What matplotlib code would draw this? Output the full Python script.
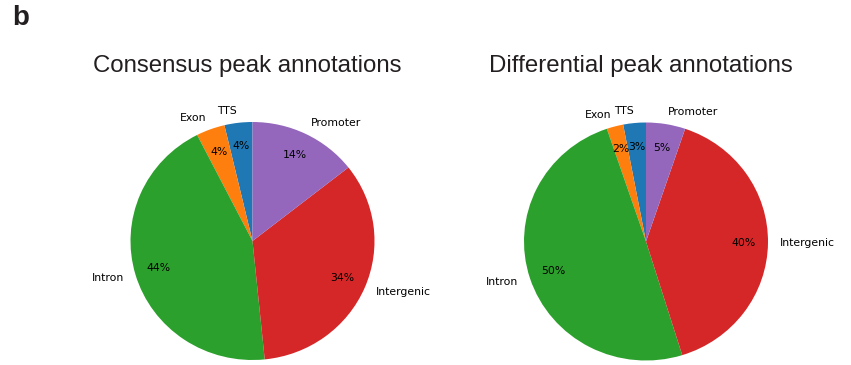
import matplotlib.pyplot as plt

# peak annotation shares (%), counterclockwise from 12 o'clock
labels = ['TTS', 'Exon', 'Intron', 'Intergenic', 'Promoter']
consensus = [3.7, 3.8, 44.1, 34.0, 14.4]
differential = [3.0, 2.2, 49.6, 40.0, 5.2]
colors = ['tab:blue', 'tab:orange', 'tab:green', 'tab:red', 'tab:purple']

W, H = 851, 365
fig = plt.figure(figsize=(W / 100, H / 100), dpi=100)


def pie_axes(cx, cy, rx, ry):
    # axes of 2.5 radii each way centred on (cx, cy), pixels from top-left
    w, h = 2.5 * rx, 2.5 * ry
    return fig.add_axes([(cx - w / 2) / W, (H - cy - h / 2) / H, w / W, h / H])


for (cx, cy), vals, title in [((252.5, 241), consensus, 'Consensus peak annotations'),
                              ((646, 241.5), differential, 'Differential peak annotations')]:
    ax = pie_axes(cx, cy, 122, 119)
    ax.pie(vals, labels=labels, colors=colors, startangle=90, autopct='%1.0f%%',
           pctdistance=0.8, labeldistance=1.1,
           textprops={'fontsize': 7.8, 'family': 'DejaVu Sans'})
    ax.set_aspect('auto')
    fig.text(cx / W - 0.006, 1 - 66 / H, title, ha='center', va='center',
             fontsize=17.3, family='Liberation Sans', color='#231f20')

fig.text(12 / W, 1 - 18 / H, 'b', ha='left', va='center', fontsize=20,
         fontweight='bold', family='Liberation Sans', color='#231f20')

fig.savefig('out.png', dpi=100)
